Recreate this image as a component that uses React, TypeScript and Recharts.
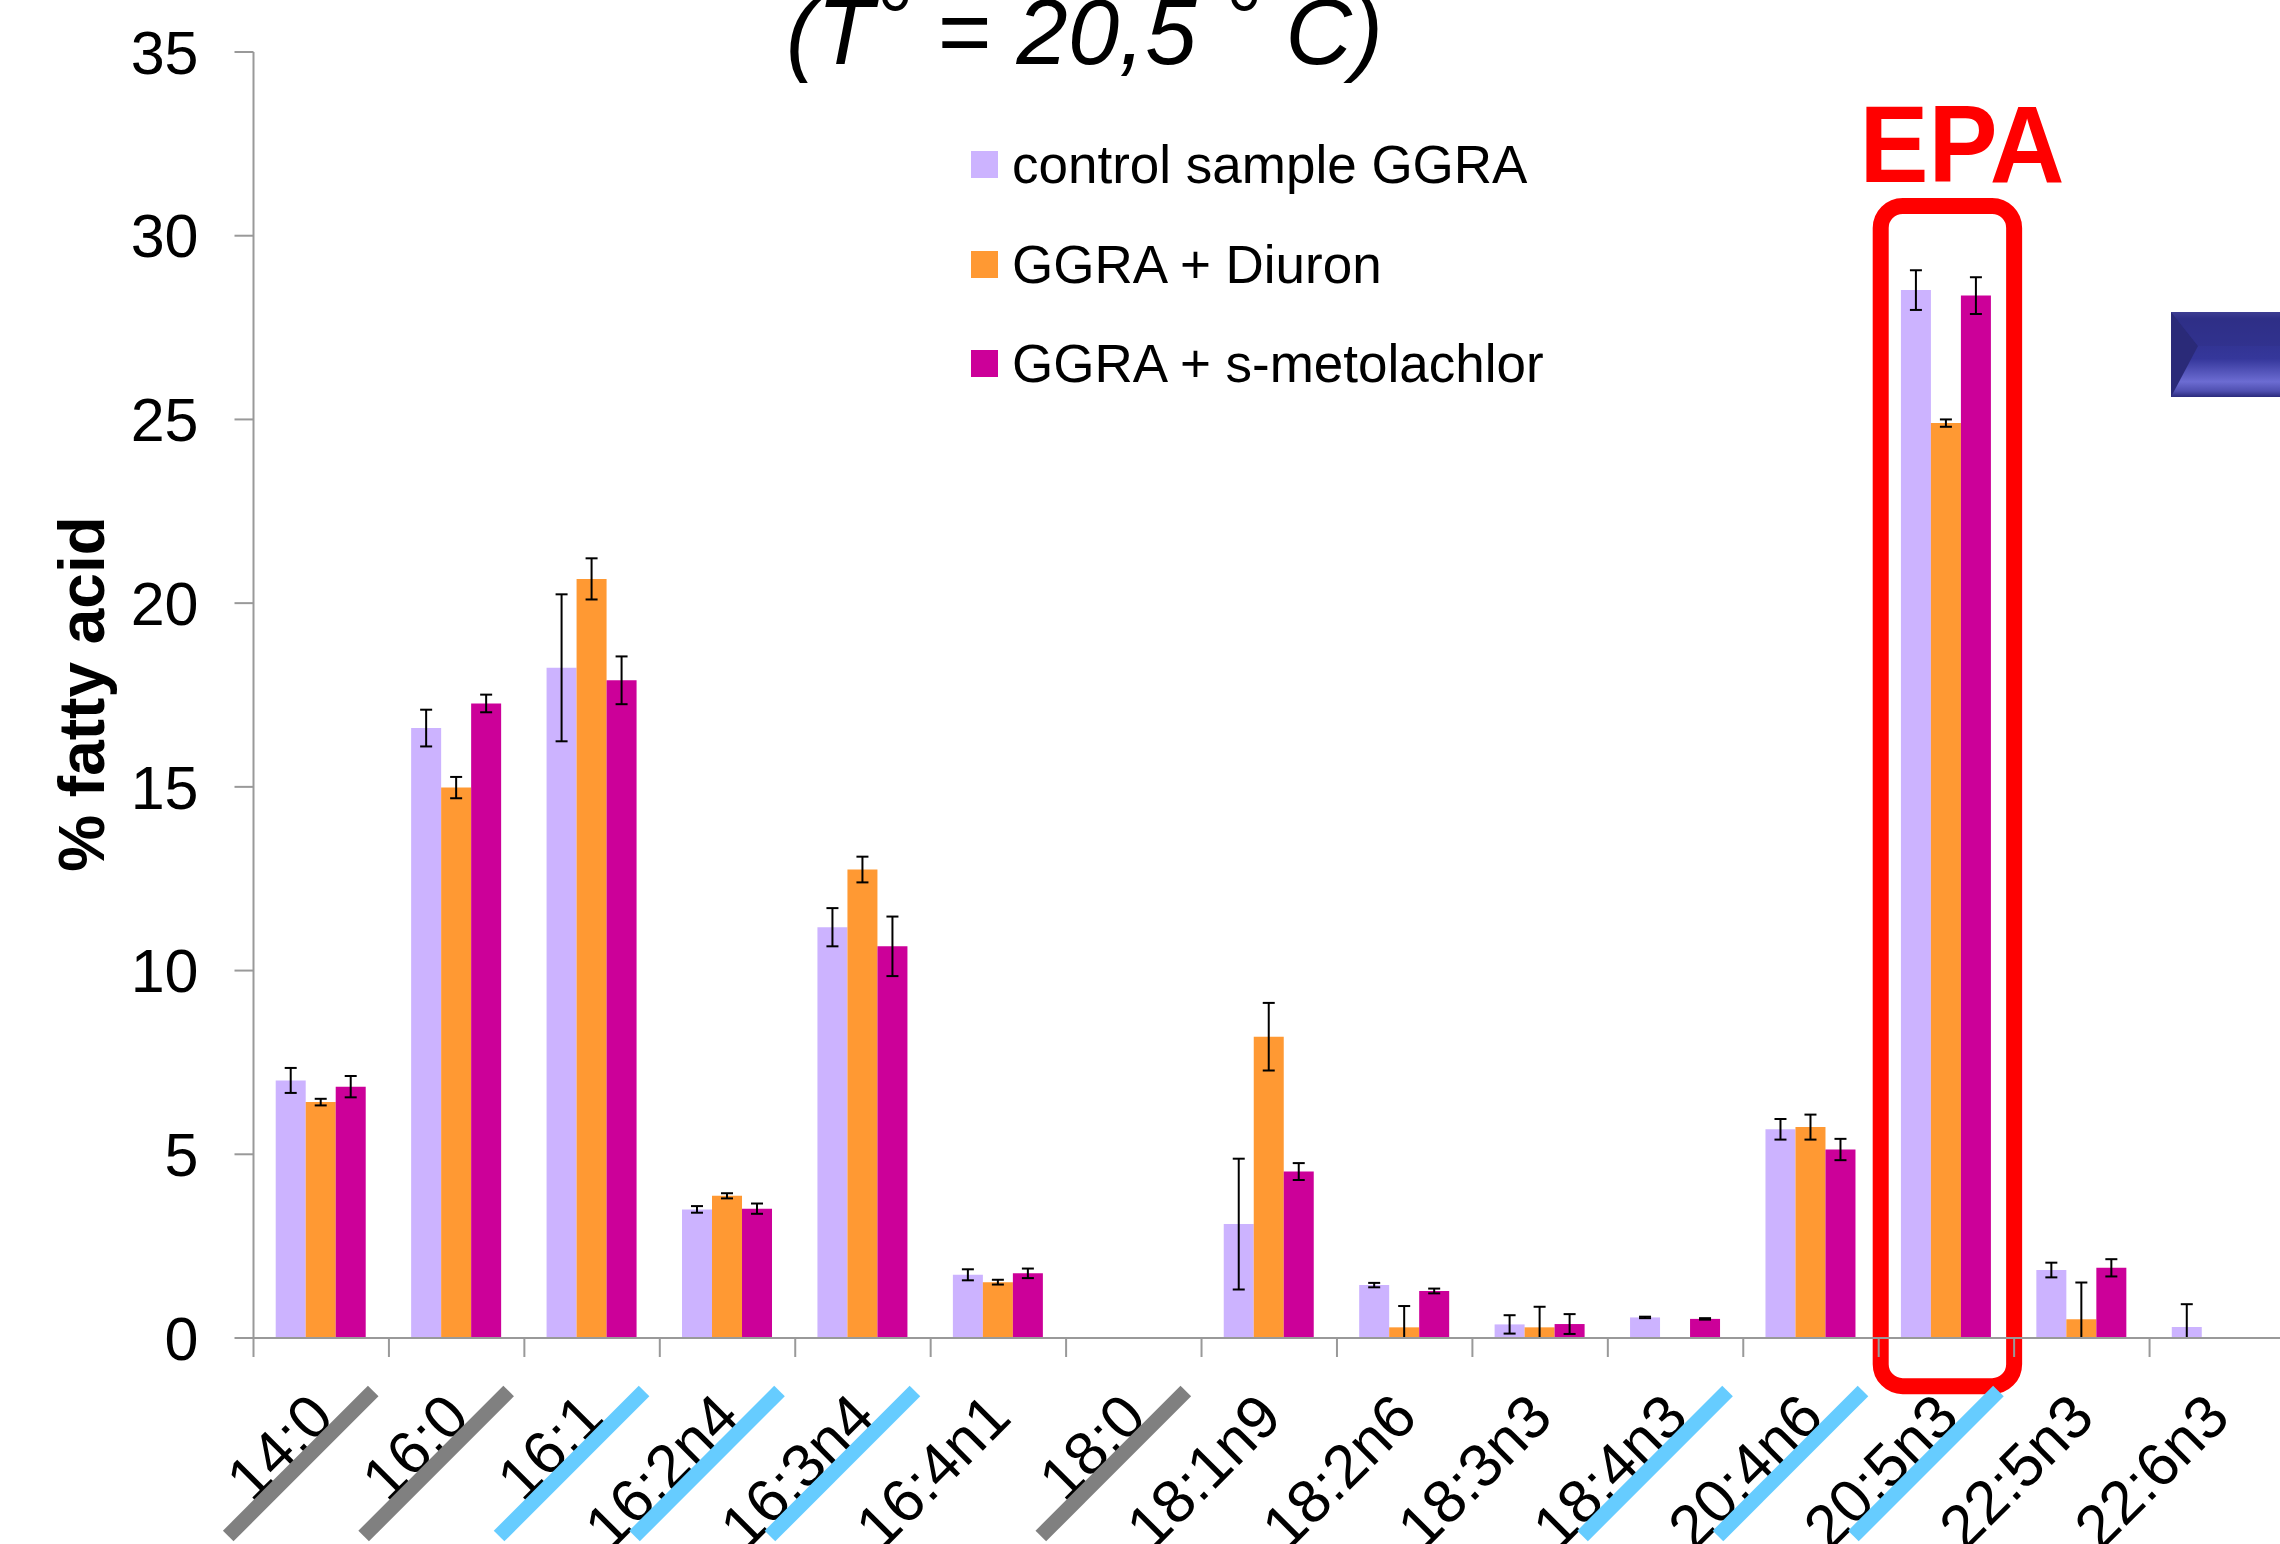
import React from 'react';
import { BarChart, Bar, XAxis, YAxis, ErrorBar, Legend, ReferenceArea } from 'recharts';

const categories = ['14:0', '16:0', '16:1', '16:2n4', '16:3n4', '16:4n1', '18:0', '18:1n9', '18:2n6', '18:3n3', '18:4n3', '20:4n6', '20:5n3', '22:5n3', '22:6n3'];
const seriesNames = ['control sample GGRA', 'GGRA + Diuron', 'GGRA + s-metolachlor'];
const controlValues = [7.01, 16.6, 18.24, 3.5, 11.18, 1.72, 0, 3.1, 1.44, 0.37, 0.56, 5.68, 28.52, 1.85, 0.3];
const controlErrors: (number | number[])[] = [0.34, 0.5, 2.0, 0.09, 0.52, 0.15, 0, 1.78, 0.06, 0.25, 0.02, 0.28, 0.54, 0.2, [0.3, 0.62]];
const diuronValues = [6.42, 14.98, 20.66, 3.87, 12.75, 1.52, 0, 8.2, 0.29, 0.29, 0, 5.74, 24.9, 0.51, 0];
const diuronErrors: (number | number[])[] = [0.09, 0.29, 0.56, 0.07, 0.35, 0.065, 0, 0.92, [0.29, 0.58], [0.29, 0.56], 0, 0.34, 0.1, [0.51, 1.0], 0];
const metolachlorValues = [6.84, 17.27, 17.9, 3.52, 10.66, 1.76, 0, 4.53, 1.28, 0.38, 0.52, 5.13, 28.37, 1.91, 0];
const metolachlorErrors: (number | number[])[] = [0.29, 0.24, 0.65, 0.14, 0.81, 0.13, 0, 0.23, 0.065, 0.27, 0.02, 0.29, 0.5, 0.235, 0];
// strike-through marks drawn over category labels: 'grey', 'blue' or ''
const labelStrikes = ['grey', 'grey', 'blue', 'blue', 'blue', '', 'grey', '', '', '', 'blue', 'blue', 'blue', '', ''];
const yTicks = [0, 5, 10, 15, 20, 25, 30, 35];
const highlightCategory = '20:5n3';
const highlightRange = [-1.31, 30.81];

const COLORS = ['#CCB3FF', '#FF9933', '#CC0099'];
const STRIKE_COLORS: Record<string, string> = { grey: '#808080', blue: '#66CCFF' };
const FONT = '"Liberation Sans", Arial, sans-serif';

const data = categories.map((name, i) => ({
  name,
  control: controlValues[i],
  controlErr: controlErrors[i],
  diuron: diuronValues[i],
  diuronErr: diuronErrors[i],
  metol: metolachlorValues[i],
  metolErr: metolachlorErrors[i],
}));

const CHART_W = 2290;
const CHART_H = 1544;
const MARGIN = { top: 52, right: 5, bottom: 0, left: 0 };
const Y_AXIS_W = 253.5;
const X_AXIS_H = 206;
const AXIS_Y = CHART_H - X_AXIS_H;
const PLOT_W = CHART_W - MARGIN.right - Y_AXIS_W;
const BAND = PLOT_W / categories.length;

const CategoryTick = (props: any) => {
  const { x, payload, index } = props;
  const cx = x;
  const strike = labelStrikes[index];
  const ax = cx + 15;
  const ay = AXIS_Y + 82;
  return (
    <g>
      <line x1={cx - BAND / 2} y1={AXIS_Y} x2={cx - BAND / 2} y2={AXIS_Y + 19} stroke="#999" strokeWidth={2} />
      <text
        x={ax}
        y={ay}
        textAnchor="end"
        fontSize={61}
        fontFamily={FONT}
        fill="#000"
        transform={`rotate(-45 ${ax} ${ay})`}
      >
        {payload.value}
      </text>
      {strike ? (
        <line
          x1={cx + 52}
          y1={AXIS_Y + 53}
          x2={cx + 52 - 145}
          y2={AXIS_Y + 53 + 145}
          stroke={STRIKE_COLORS[strike]}
          strokeWidth={15}
        />
      ) : null}
    </g>
  );
};

const renderLegend = () => (
  <div style={{ fontFamily: FONT }}>
    {seriesNames.map((s, i) => (
      <div key={s} style={{ display: 'flex', alignItems: 'center', height: 99.5 }}>
        <div style={{ width: 27, height: 27, background: COLORS[i], marginRight: 14 }} />
        <span style={{ fontSize: 53, lineHeight: '53px', color: '#000', whiteSpace: 'nowrap' }}>{s}</span>
      </div>
    ))}
  </div>
);

const RedBox = (props: any) => {
  const { x, y, width, height } = props;
  return (
    <rect x={x + 2} y={y} width={width - 2} height={height} rx={22} ry={22} fill="none" stroke="#FF0000" strokeWidth={16} />
  );
};

export default function App() {
  return (
    <div style={{ position: 'absolute', left: 0, top: 0, width: 2280, height: 1544, overflow: 'hidden', background: '#fff' }}>
      <BarChart
        width={CHART_W}
        height={CHART_H}
        data={data}
        margin={MARGIN}
        barCategoryGap="16.4%"
        barGap={0}
      >
        <XAxis
          dataKey="name"
          height={X_AXIS_H}
          interval={0}
          tickLine={false}
          axisLine={{ stroke: '#999', strokeWidth: 2 }}
          tick={(p: any) => <CategoryTick {...p} />}
        />
        <YAxis
          width={Y_AXIS_W}
          domain={[0, 35]}
          ticks={yTicks}
          interval={0}
          tickSize={19}
          tickMargin={36}
          axisLine={{ stroke: '#999', strokeWidth: 2 }}
          tickLine={{ stroke: '#999', strokeWidth: 2 }}
          tick={{ fontSize: 61, fill: '#000', fontFamily: FONT }}
        />
        <Legend
          layout="vertical"
          align="center"
          verticalAlign="middle"
          content={renderLegend}
          wrapperStyle={{ left: 971, top: 115, width: 700, height: 300 }}
        />
        <Bar dataKey="control" name={seriesNames[0]} fill={COLORS[0]} isAnimationActive={false}>
          <ErrorBar dataKey="controlErr" width={6} stroke="#000" strokeWidth={2} isAnimationActive={false} />
        </Bar>
        <Bar dataKey="diuron" name={seriesNames[1]} fill={COLORS[1]} isAnimationActive={false}>
          <ErrorBar dataKey="diuronErr" width={6} stroke="#000" strokeWidth={2} isAnimationActive={false} />
        </Bar>
        <Bar dataKey="metol" name={seriesNames[2]} fill={COLORS[2]} isAnimationActive={false}>
          <ErrorBar dataKey="metolErr" width={6} stroke="#000" strokeWidth={2} isAnimationActive={false} />
        </Bar>
        <ReferenceArea
          x1={highlightCategory}
          x2={highlightCategory}
          y1={highlightRange[0]}
          y2={highlightRange[1]}
          ifOverflow="visible"
          shape={(p: any) => <RedBox {...p} />}
        />
      </BarChart>
      <svg width={2280} height={1544} style={{ position: 'absolute', left: 0, top: 0, pointerEvents: 'none' }}>
        <defs>
          <linearGradient id="bluebar" x1="0" y1="0" x2="0" y2="1">
            <stop offset="0" stopColor="#4b4b9c" />
            <stop offset="0.08" stopColor="#2d2e86" />
            <stop offset="0.55" stopColor="#35379b" />
            <stop offset="0.82" stopColor="#6c6cd2" />
            <stop offset="0.93" stopColor="#4f4fb0" />
            <stop offset="1" stopColor="#2a2a7c" />
          </linearGradient>
        </defs>
        <text x={786} y={64} fontSize={92} fontStyle="italic" fontFamily={FONT} textAnchor="start" fill="#000" textLength={597} lengthAdjust="spacing">
          (T<tspan dy={-14}>°</tspan>
          <tspan dy={14}> = 20,5 </tspan>
          <tspan dy={-14}>°</tspan>
          <tspan dy={14}> C)</tspan>
        </text>
        <text x={1962} y={182} fontSize={109} fontWeight="bold" fontFamily={FONT} textAnchor="middle" fill="#FF0000" textLength={205} lengthAdjust="spacingAndGlyphs">
          EPA
        </text>
        <text x={104} y={694} fontSize={64} fontWeight="bold" fontFamily={FONT} textAnchor="middle" fill="#000" transform="rotate(-90 104 694)">
          % fatty acid
        </text>
        <rect x={2171} y={312} width={120} height={85} fill="url(#bluebar)" />
        <polygon points="2171,312 2198,346 2171,397" fill="#2a2a78" />
        <polygon points="2171,312 2198,346 2290,346 2290,312" fill="#2f3088" opacity={0.5} />
      </svg>
    </div>
  );
}
